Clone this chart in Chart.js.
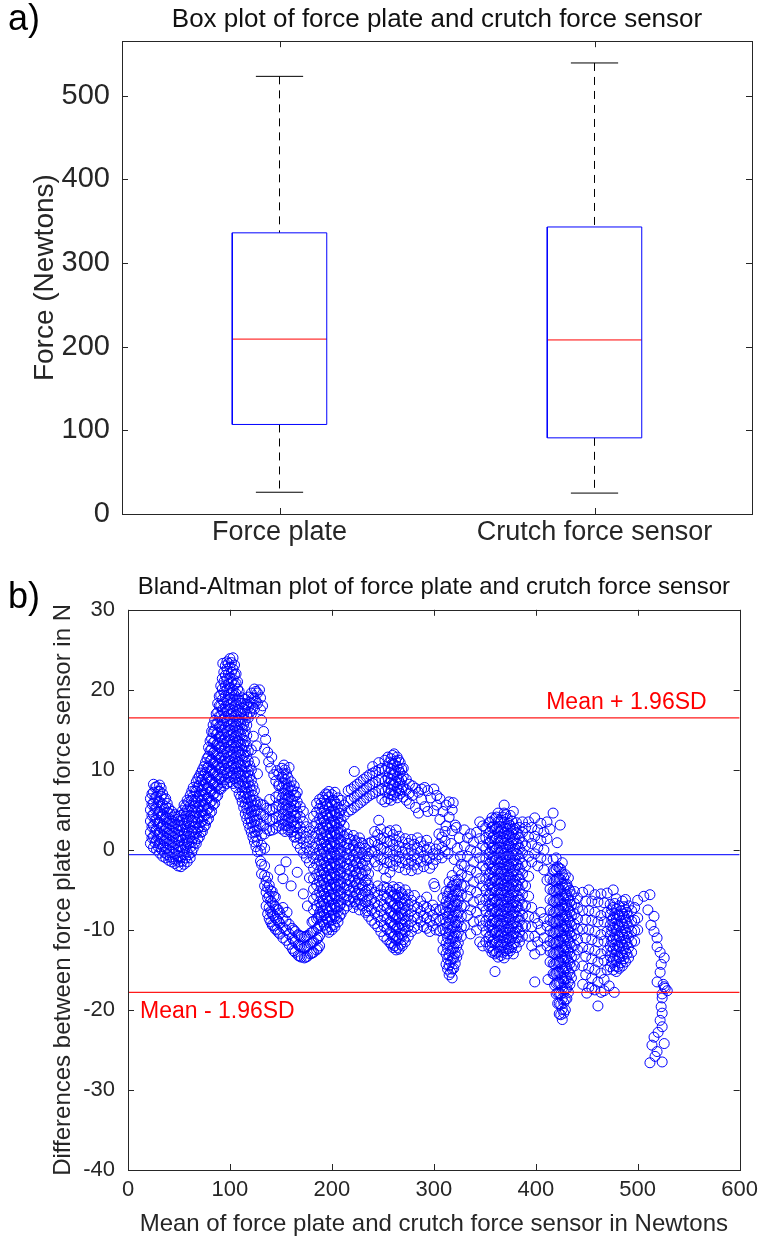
<!DOCTYPE html>
<html>
<head>
<meta charset="utf-8">
<script src="https://cdn.jsdelivr.net/npm/chart.js@4.4.1/dist/chart.umd.min.js"></script>
<style>
  html, body { margin: 0; padding: 0; background: #fff; }
  body { width: 765px; height: 1243px; position: relative; overflow: hidden; }
  .panel { position: absolute; left: 0; width: 765px; }
  #boxPanel { top: 0; height: 565px; }
  #baPanel { top: 565px; height: 678px; }
</style>
</head>
<body>
<div class="panel" id="boxPanel"><canvas id="boxChart"></canvas></div>
<div class="panel" id="baPanel"><canvas id="baChart"></canvas></div>
<script>
// a) box plot summary, Newtons
const groupLabels = ["Force plate", "Crutch force sensor"];
const whiskerHigh = [523, 539];
const q3Vals = [336, 343];
const medianVals = [209, 208];
const q1Vals = [107, 91];
const whiskerLow = [26, 25];

// b) Bland-Altman lines
const meanDiff = -0.6;
const upperLoA = 16.5;
const lowerLoA = -17.8;
const meanAxis = [0, 600];
const diffAxis = [-40, 30];

// scatter, column by column: [mean, [differences]]
const startCluster = [
  [22, [0.8, 2.2, 3.6, 5.0, 6.4]],
  [23.5, [1.5, 2.9, 4.3, 5.7, 7.0]],
  [25, [0.3, 1.6, 3.0, 4.4, 5.8, 7.2, 8.2]],
  [26.5, [0.9, 2.3, 3.7, 5.1, 6.5, 7.8]],
  [28, [0.0, 1.2, 2.5, 3.8, 5.2, 6.6, 7.9]],
  [29.5, [0.4, 1.8, 3.2, 4.5, 5.9, 7.3]],
  [31, [-0.4, 0.8, 2.1, 3.4, 4.7, 6.0, 7.3, 8.1]],
  [32.5, [0.1, 1.4, 2.8, 4.1, 5.4, 6.7, 7.7]],
  [34, [-0.8, 0.5, 1.8, 3.1, 4.4, 5.7, 7.0]],
  [35.5, [-0.3, 1.1, 2.4, 3.8, 5.1, 6.3]],
  [37, [-1.0, 0.2, 1.5, 2.8, 4.1, 5.4, 6.4]],
  [38.5, [-0.6, 0.8, 2.1, 3.4, 4.7, 5.8]],
  [40, [-1.3, 0.0, 1.3, 2.6, 3.9, 5.2]],
  [41.5, [-0.9, 0.6, 1.9, 3.2, 4.5]],
  [43, [-1.5, -0.3, 1.0, 2.3, 3.6, 4.8]],
  [44.5, [-1.1, 0.3, 1.6, 2.9, 4.1]],
  [46, [-1.7, -0.5, 0.8, 2.1, 3.4, 4.4]],
  [47.5, [-1.3, 0.0, 1.3, 2.6, 3.8]],
  [49, [-2.0, -0.8, 0.5, 1.8, 3.1, 4.2]],
  [50.5, [-1.5, -0.2, 1.1, 2.4, 3.6]],
  [52, [-2.1, -0.9, 0.4, 1.7, 3.0, 4.3]],
  [53.5, [-1.4, -0.1, 1.2, 2.5, 3.8, 4.9]],
  [55, [-1.8, -0.6, 0.7, 2.0, 3.3, 4.6, 5.6]],
  [56.5, [-1.0, 0.3, 1.6, 2.9, 4.2, 5.4]],
  [58, [-1.5, -0.2, 1.1, 2.4, 3.7, 5.0, 6.2]],
  [59.5, [-0.6, 0.8, 2.1, 3.4, 4.8, 6.0]],
  [61, [-1.0, 0.3, 1.6, 2.9, 4.2, 5.5, 6.8]]
];
const risingBand = [
  [62.5, [-0.3, 1.0, 2.3, 3.6, 4.9, 6.2, 7.3]],
  [64, [0.2, 1.5, 2.8, 4.1, 5.4, 6.7, 7.8]],
  [65.5, [0.9, 2.2, 3.5, 4.8, 6.1, 7.4]],
  [67, [0.8, 2.1, 3.4, 4.7, 6.0, 7.3, 8.5]],
  [68.5, [1.4, 2.7, 4.0, 5.3, 6.6, 7.9, 8.9]],
  [70, [1.6, 2.9, 4.2, 5.5, 6.8, 8.1, 9.2]],
  [71.5, [2.2, 3.5, 4.8, 6.1, 7.4, 8.7, 9.6]],
  [73, [2.3, 3.6, 4.9, 6.2, 7.5, 8.8, 10.0]],
  [74.5, [2.9, 4.2, 5.5, 6.8, 8.1, 9.4, 10.4]],
  [76, [3.1, 4.4, 5.7, 7.0, 8.3, 9.6, 10.9]],
  [77.5, [3.7, 5.0, 6.3, 7.6, 8.9, 10.2, 11.4]],
  [79, [3.9, 5.2, 6.5, 7.8, 9.1, 10.4, 11.7, 12.8]],
  [80.5, [4.6, 5.9, 7.2, 8.5, 9.8, 11.1, 12.4, 13.6]],
  [82, [4.8, 6.1, 7.4, 8.7, 10.0, 11.3, 12.6, 13.9, 14.8]],
  [83.5, [5.6, 6.9, 8.2, 9.5, 10.8, 12.1, 13.4, 14.7, 15.6]],
  [85, [5.8, 7.1, 8.4, 9.7, 11.0, 12.3, 13.6, 14.9, 16.2]],
  [86.5, [6.6, 7.9, 9.2, 10.5, 11.8, 13.1, 14.4, 15.7, 17.0]],
  [88, [6.8, 8.1, 9.4, 10.7, 12.0, 13.3, 14.6, 15.9, 17.2, 18.3]],
  [89.5, [7.6, 8.9, 10.2, 11.5, 12.8, 14.1, 15.4, 16.7, 18.0, 19.2]]
];
const peakCols = [
  [91, [7.6, 8.9, 10.2, 11.5, 12.8, 14.1, 15.4, 16.7, 18.0, 19.3, 20.5]],
  [92.5, [8.4, 9.7, 11.0, 12.3, 13.6, 14.9, 16.2, 17.5, 18.8, 20.1, 21.4]],
  [93, [23.3]],
  [94, [8.0, 9.3, 10.6, 11.9, 13.2, 14.5, 15.8, 17.1, 18.4, 19.7, 21.0, 22.2]],
  [95.5, [8.8, 10.1, 11.4, 12.7, 14.0, 15.3, 16.6, 17.9, 19.2, 20.5, 21.8, 23.0]],
  [97, [8.3, 9.6, 10.9, 12.2, 13.5, 14.8, 16.1, 17.4, 18.7, 20.0, 21.3, 22.6, 23.5]],
  [98.5, [9.0, 10.3, 11.6, 12.9, 14.2, 15.5, 16.8, 18.1, 19.4, 20.7, 22.0, 23.3]],
  [100, [8.5, 9.8, 11.1, 12.4, 13.7, 15.0, 16.3, 17.6, 18.9, 20.2, 21.5, 22.8, 23.9]],
  [101.5, [9.2, 10.5, 11.8, 13.1, 14.4, 15.7, 17.0, 18.3, 19.6, 20.9, 22.2, 23.4]],
  [103, [8.3, 9.6, 10.9, 12.2, 13.5, 14.8, 16.1, 17.4, 18.7, 20.0, 21.3, 22.6, 24.0]],
  [104.5, [8.9, 10.2, 11.5, 12.8, 14.1, 15.4, 16.7, 18.0, 19.3, 20.6, 21.9, 23.1]],
  [106, [7.8, 9.1, 10.4, 11.7, 13.0, 14.3, 15.6, 16.9, 18.2, 19.5, 20.8, 22.0]],
  [107.5, [8.4, 9.7, 11.0, 12.3, 13.6, 14.9, 16.2, 17.5, 18.8, 20.1, 21.0]],
  [109, [7.0, 8.3, 9.6, 10.9, 12.2, 13.5, 14.8, 16.1, 17.4, 18.7, 19.8]],
  [110.5, [6.6, 7.9, 9.2, 10.5, 11.8, 13.1, 14.4, 15.7, 17.0, 18.3]],
  [112, [6.0, 7.3, 8.6, 9.9, 11.2, 12.5, 13.8, 15.1, 16.4, 17.7, 19.0]],
  [113.5, [5.3, 6.6, 7.9, 9.2, 10.5, 11.8, 13.1, 14.4, 15.7, 17.0, 18.3]]
];
const afterPeak = [
  [115, [4.5, 5.8, 7.1, 8.4, 9.7, 11.0, 12.3, 13.6, 14.9, 16.2, 17.5, 18.8]],
  [116.5, [3.9, 5.2, 6.5, 7.8, 9.1, 10.4, 11.7, 13.0, 14.3, 15.6, 16.9, 18.2]],
  [118, [3.3, 4.6, 5.9, 7.2, 8.5, 9.8, 11.1, 12.4, 16.5, 17.8, 19.1]],
  [119.5, [2.7, 4.0, 5.3, 6.6, 7.9, 9.2, 10.5, 17.2, 18.5]],
  [121, [2.2, 3.5, 4.8, 6.1, 7.4, 8.7, 10.0, 12.5, 17.0, 18.3, 19.6]],
  [122.5, [1.6, 2.9, 4.2, 5.5, 6.8, 8.0, 17.8, 19.0]],
  [124, [1.0, 2.3, 3.6, 4.9, 6.2, 7.4, 11.0, 17.6, 18.9, 20.1]],
  [125.5, [0.4, 1.7, 3.0, 4.3, 5.6, 18.6, 19.8]],
  [127, [-0.2, 1.1, 2.4, 3.7, 5.0, 6.0, 9.5, 18.3, 19.6]],
  [130, [-1.4, -0.1, 3.2, 4.5, 5.7, 17.5, 19.0]],
  [123, [14.2]], [126, [13.0]], [129, [20.0]], [132, [18.0]],
  [131, [16.2]], [133, [14.8]], [135, [13.8]], [134, [12.6]],
  [137, [12.2]], [138, [11.0]], [140, [10.2]], [141, [11.6]],
  [143, [9.4]], [145, [8.6]], [146, [9.9]], [148, [8.0]]
];
const lowerBranch = [
  [131, [-3.0, -1.8, 0.6, 1.8]],
  [134, [-4.5, -3.2, -2.0, 0.2, 2.0]],
  [135.5, [-7.0, -5.3, -3.9]],
  [137, [-8.0, -6.0, -4.7, -3.4]],
  [138.5, [-8.6, -7.2, -5.8, -4.4]],
  [140, [-9.0, -7.7, -6.4, -5.1]],
  [141.5, [-9.4, -8.0, -6.6, -5.2]],
  [143, [-9.5, -8.2, -6.9, -5.8]],
  [144.5, [-9.9, -8.5, -7.1, -5.9]],
  [146, [-10.0, -8.7, -7.4]],
  [147.5, [-10.3, -8.9, -7.5]],
  [149, [-10.5, -9.2, -7.9, -2.5]],
  [152, [-11.0, -9.7, -8.6, -7.2, -3.6]],
  [155, [-11.3, -10.0, -8.9, -1.5]],
  [156, [-7.8]],
  [158, [-11.8, -10.5, -9.3]],
  [161, [-12.3, -11.0, -9.8]],
  [162.5, [-12.6, -11.3, -10.0]],
  [164, [-12.8, -11.5, -10.2]],
  [167, [-13.2, -11.9, -10.6]],
  [168.5, [-13.3, -12.0, -10.7]],
  [170, [-13.4, -12.1, -10.8]],
  [173, [-13.5, -12.2, -10.9]],
  [174.5, [-13.4, -12.1, -10.8]],
  [176, [-13.3, -12.0, -10.7, -7.0]],
  [179, [-13.0, -11.7, -10.4]],
  [180.5, [-12.9, -11.6, -10.3, -9.0]],
  [182, [-12.8, -11.5, -10.2, -8.9]],
  [185, [-12.5, -11.2, -9.9, -8.6]],
  [186.5, [-12.3, -11.0, -9.7, -8.4]],
  [188, [-12.0, -10.7, -9.4, -8.1]],
  [160, [-4.5]], [166, [-2.8]], [172, [-5.5]], [178, [-3.5]]
];
const midBand = [
  [133, [3.0, 4.3, 5.6]],
  [136, [2.6, 3.9, 5.2]],
  [139, [2.4, 3.7, 5.0, 6.3]],
  [142, [2.5, 3.8, 5.1]],
  [145, [2.7, 4.0, 5.3, 6.6]],
  [148, [3.0, 4.3, 5.6, 6.9, 8.2, 9.5]],
  [151, [2.6, 3.9, 5.2, 6.5, 7.8, 9.1, 10.2]],
  [152.5, [3.1, 4.4, 5.7, 7.0, 8.3, 9.6]],
  [153, [10.6]],
  [154, [2.3, 3.6, 4.9, 6.2, 7.5, 8.8, 10.0]],
  [155.5, [3.0, 4.3, 5.6, 6.9, 8.2, 9.5]],
  [157, [2.5, 3.8, 5.1, 6.4, 7.7, 9.0]],
  [158, [10.3]],
  [158.5, [2.8, 4.1, 5.4, 6.7, 8.0]],
  [160, [2.2, 3.5, 4.8, 6.1, 7.4, 8.5]],
  [161.5, [2.3, 3.6, 4.9, 6.2, 7.5]],
  [163, [1.6, 2.9, 4.2, 5.5, 6.8, 8.0]],
  [164.5, [1.6, 2.9, 4.2, 5.5, 6.8]],
  [166, [0.8, 2.1, 3.4, 4.7, 6.0, 7.2]],
  [169, [0.2, 1.5, 2.8, 4.1, 5.4]],
  [172, [-0.4, 0.9, 2.2, 3.5, 4.8]],
  [175, [-1.0, 0.3, 1.6, 2.9]],
  [178, [-1.6, -0.3, 1.0, 2.3]]
];
const firstColumn = [
  [182, [-7.5, -6.2, -4.9, -3.6, -2.3, -1.0, 0.3, 1.6, 2.9, 4.2]],
  [185, [-7.0, -5.7, -4.4, -3.1, -1.8, -0.5, 0.8, 2.1, 3.4, 4.7, 5.8]],
  [188, [-7.8, -6.5, -5.2, -3.9, -2.6, -1.3, 0.0, 1.3, 2.6, 3.9, 5.2, 6.3]],
  [189.5, [-8.4, -7.1, -5.8, -4.5, -3.2, -1.9, -0.6, 0.7, 2.0, 3.3, 4.6, 5.8]],
  [191, [-9.0, -7.7, -6.4, -5.1, -3.8, -2.5, -1.2, 0.1, 1.4, 2.7, 4.0, 5.3, 6.6]],
  [192.5, [-9.4, -8.1, -6.8, -5.5, -4.2, -2.9, -1.6, -0.3, 1.0, 2.3, 3.6, 4.9, 6.2]],
  [194, [-9.8, -8.5, -7.2, -5.9, -4.6, -3.3, -2.0, -0.7, 0.6, 1.9, 3.2, 4.5, 5.8, 7.0]],
  [195.5, [-10.0, -8.7, -7.4, -6.1, -4.8, -3.5, -2.2, -0.9, 0.4, 1.7, 3.0, 4.3, 5.6, 6.9]],
  [197, [-10.3, -9.0, -7.7, -6.4, -5.1, -3.8, -2.5, -1.2, 0.1, 1.4, 2.7, 4.0, 5.3, 6.6, 7.3]],
  [198.5, [-9.6, -8.3, -7.0, -5.7, -4.4, -3.1, -1.8, -0.5, 0.8, 2.1, 3.4, 4.7, 6.0]],
  [200, [-10.0, -8.7, -7.4, -6.1, -4.8, -3.5, -2.2, -0.9, 0.4, 1.7, 3.0, 4.3, 5.6, 6.9]],
  [201.5, [-9.4, -8.1, -6.8, -5.5, -4.2, -2.9, -1.6, -0.3, 1.0, 2.3, 3.6, 4.9, 6.2]],
  [203, [-9.6, -8.3, -7.0, -5.7, -4.4, -3.1, -1.8, -0.5, 0.8, 2.1, 3.4, 4.7, 6.0, 7.2]],
  [204.5, [-8.6, -7.3, -6.0, -4.7, -3.4, -2.1, -0.8, 0.5, 1.8, 3.1, 4.4, 5.7]],
  [206, [-9.0, -7.7, -6.4, -5.1, -3.8, -2.5, -1.2, 0.1, 1.4, 2.7, 4.0, 5.3, 6.5]],
  [207.5, [-8.3, -7.0, -5.7, -4.4, -3.1, -1.8, -0.5, 0.8, 2.1, 3.4, 4.6]],
  [209, [-8.0, -6.7, -5.4, -4.1, -2.8, -1.5, -0.2, 1.1, 2.4, 3.7, 5.0, 6.2]],
  [212, [-7.4, -6.1, -4.8, -3.5, -2.2, -0.9, 0.4, 1.7, 3.0, 4.3, 5.6]]
];
const centreBlob = [
  [215, [-7.0, -5.7, -4.4, -3.1, -1.8, -0.5, 0.8, 2.0]],
  [216.5, [-6.3, -5.0, -3.7, -2.4, -1.1, 0.2, 1.4]],
  [218, [-6.5, -5.2, -3.9, -2.6, -1.3, 0.0, 1.3]],
  [221, [-7.2, -5.9, -4.6, -3.3, -2.0, -0.7, 0.6, 1.8]],
  [222.5, [-6.5, -5.2, -3.9, -2.6, -1.3, 0.0, 1.2]],
  [224, [-6.8, -5.5, -4.2, -2.9, -1.6, -0.3, 1.0]],
  [227, [-7.5, -6.2, -4.9, -3.6, -2.3, -1.0, 0.3, 1.5]],
  [228.5, [-6.8, -5.5, -4.2, -2.9, -1.6, -0.3, 0.9]],
  [230, [-7.0, -5.7, -4.4, -3.1, -1.8, -0.5, 0.8]],
  [233, [-7.8, -6.5, -5.2, -3.9, -2.6, -1.3, 0.2]],
  [234.5, [-7.6, -6.3, -5.0, -3.7, -2.0, -0.8]],
  [236, [-8.3, -7.0, -5.7, -4.4, -3.0, -0.5, 0.8]],
  [239, [-8.8, -7.5, -6.2, -4.9, -0.2, 1.0]]
];
const upperArc = [
  [216, [4.8, 6.1, 7.4]],
  [219, [5.0, 6.3, 7.6]],
  [222, [5.3, 6.6, 7.9, 9.8]],
  [225, [5.6, 6.9, 8.2]],
  [228, [5.9, 7.2, 8.5]],
  [231, [6.2, 7.5, 8.8]],
  [234, [6.5, 7.8, 9.1]],
  [237, [6.8, 8.1, 9.4]],
  [240, [7.0, 8.3, 9.6, 10.4]],
  [243, [7.2, 8.5, 9.8]],
  [246, [3.7, 7.4, 8.7, 10.0, 10.9]],
  [249, [6.3, 7.6, 8.9, 10.2]],
  [252, [6.0, 7.3, 8.6, 9.9, 11.2]],
  [255, [6.4, 7.7, 9.0, 10.3, 11.6]],
  [256.5, [7.0, 8.3, 9.6, 10.9]],
  [258, [6.2, 7.5, 8.8, 10.1, 11.4]],
  [259.5, [6.9, 8.2, 9.5, 10.8, 11.8]],
  [261, [6.8, 8.1, 9.4, 10.7, 12.0]],
  [262.5, [7.2, 8.5, 9.8, 11.1]],
  [264, [6.5, 7.8, 9.1, 10.4, 11.6]],
  [265.5, [7.4, 8.7, 10.0, 11.2]],
  [267, [7.0, 8.3, 9.6, 10.9]],
  [268.5, [7.5, 8.8, 10.1]],
  [270, [6.6, 7.9, 9.2, 10.2]],
  [273, [6.2, 7.5, 8.8]],
  [276, [5.8, 7.1, 8.2]],
  [279, [6.8, 8.0]],
  [282, [5.3, 7.7]],
  [285, [4.6, 7.2]],
  [288, [6.3, 7.6]],
  [291, [5.4, 7.8]],
  [294, [4.8, 7.4]],
  [297, [6.5]],
  [300, [4.9, 7.6]],
  [303, [5.6, 6.8]],
  [306, [3.8, 6.4]],
  [309, [4.8]],
  [312, [3.0, 5.6]],
  [315, [4.1, 6.0]],
  [318, [2.4, 5.0]],
  [321, [3.1]]
];
const zeroBand = [
  [242, [-1.5, -0.2, 1.1, 2.3]],
  [245, [-2.0, -0.7, 0.6, 1.9]],
  [248, [-1.2, 0.1, 1.4, 2.6]],
  [251, [-2.4, -1.1, 0.2, 1.5]],
  [253, [-3.5]],
  [254, [-1.6, -0.3, 1.0, 2.2]],
  [257, [-2.8, -1.5, -0.2, 1.1, 2.4]],
  [260, [-2.0, -0.7, 0.6, 1.9]],
  [263, [-1.4, -0.1, 1.2, 2.5]],
  [266, [-2.2, -0.9, 0.4, 1.7]],
  [269, [-1.6, -0.3, 1.0]],
  [272, [-2.5, -1.2, 0.1, 1.4]],
  [275, [-1.8, -0.5, 0.8]],
  [278, [-2.6, -1.3, 0.0, 1.3]],
  [281, [-1.9, -0.6, 0.7]],
  [284, [-2.4, -1.1, 0.2, 1.5]],
  [287, [-1.5, -0.2, 1.0]],
  [290, [-2.1, -0.8, 0.5]],
  [293, [-1.3, 0.0, 1.2]],
  [296, [-2.3, -1.0, 0.3]],
  [299, [-1.8, -0.5]],
  [300, [-4.2]],
  [301, [-4.6]],
  [302, [-1.2, 0.1]],
  [305, [-0.6, 0.7, 2.0]],
  [308, [-1.0, 0.3, 1.6]],
  [311, [-0.2, 1.1, 2.3]]
];
const lowerBlob = [
  [242, [-9.2, -7.9, -6.6, -5.3]],
  [245, [-9.6, -8.3, -7.0, -5.7, -4.5]],
  [248, [-10.2, -8.9, -7.6, -6.3, -5.0]],
  [251, [-10.8, -9.5, -8.2, -6.9, -5.6, -4.6]],
  [254, [-11.2, -9.9, -8.6, -7.3, -6.0, -4.8]],
  [257, [-11.6, -10.3, -9.0, -7.7, -6.4, -5.1]],
  [258.5, [-11.8, -10.5, -9.2, -7.9, -6.6, -5.3]],
  [260, [-12.2, -10.9, -9.6, -8.3, -7.0, -5.7, -4.6]],
  [261.5, [-12.0, -10.7, -9.4, -8.1, -6.8, -5.5]],
  [263, [-12.5, -11.2, -9.9, -8.6, -7.3, -6.0, -4.9]],
  [264.5, [-12.2, -10.9, -9.6, -8.3, -7.0, -5.7]],
  [266, [-12.4, -11.1, -9.8, -8.5, -7.2, -5.9, -4.7]],
  [267.5, [-11.8, -10.5, -9.2, -7.9, -6.6, -5.3]],
  [269, [-12.0, -10.7, -9.4, -8.1, -6.8, -5.5]],
  [270.5, [-11.2, -9.9, -8.6, -7.3, -6.0]],
  [272, [-11.5, -10.2, -8.9, -7.6, -6.3, -5.0]],
  [275, [-10.8, -9.5, -8.2, -6.9, -5.6]],
  [278, [-10.2, -8.9, -7.6, -6.3]],
  [281, [-9.6, -8.3, -7.0, -5.7]],
  [284, [-9.8, -8.5, -7.2]],
  [287, [-9.0, -7.7, -6.4]],
  [290, [-9.6, -8.3, -7.0]],
  [293, [-9.8, -8.5, -7.2, -5.9]],
  [296, [-10.2, -8.9, -7.6]],
  [299, [-9.5, -8.2, -6.9]],
  [302, [-10.0, -8.7, -7.4]]
];
const thirdColumn = [
  [306, [-10.1, -8.8, -7.5]],
  [309, [-12.5, -11.2, -9.9, -8.6, -7.3, -6.0]],
  [312, [-14.3, -13.0, -11.7, -10.4, -9.1, -7.8, -6.5, -5.2]],
  [313.5, [-14.9, -13.6, -12.3, -11.0, -9.7, -8.4, -7.1, -5.8]],
  [315, [-15.6, -14.4, -13.1, -11.8, -10.5, -9.2, -7.9, -6.6, -5.3, -4.0]],
  [316.5, [-15.3, -14.0, -12.7, -11.4, -10.1, -8.8, -7.5, -6.2, -4.9]],
  [318, [-16.0, -14.9, -13.6, -12.3, -11.0, -9.7, -8.4, -7.1, -5.8, -4.5, -3.2]],
  [319.5, [-14.8, -13.5, -12.2, -10.9, -9.6, -8.3, -7.0, -5.7, -4.4]],
  [321, [-14.2, -12.9, -11.6, -10.3, -9.0, -7.7, -6.4, -5.1, -3.8]],
  [322.5, [-13.4, -12.1, -10.8, -9.5, -8.2, -6.9, -5.6, -4.3]],
  [324, [-12.8, -11.6, -10.3, -9.0, -7.7, -6.4, -5.1, -3.8, -2.5]],
  [327, [-10.8, -9.6, -8.3, -7.0, -5.7, -4.4, -3.1, -1.8]],
  [314, [-0.5]], [317, [0.8]], [319, [5.9]], [320, [-1.2]],
  [322, [2.8]], [323, [0.2]], [325, [1.5]], [326, [-0.8]]
];
const gapScatter = [
  [330, [-9.5, -7.0, -4.5, -2.0, 0.5, 2.5]],
  [333, [-8.2, -5.8, -3.3, -0.8, 1.5]],
  [336, [-10.5, -7.5, -5.0, -2.5, 0.0, 2.0]],
  [339, [-9.0, -6.5, -4.0, -1.5, 1.0]],
  [342, [-10.0, -7.8, -5.3, -2.8, -0.3, 2.2]],
  [345, [-11.5, -8.8, -6.2, -3.6, -1.0, 1.4, 3.5]],
  [348, [-12.0, -9.5, -7.0, -4.5, -2.0, 0.5, 3.0]]
];
const mainColumn = [
  [351, [-11.5, -10.2, -8.9, -7.6, -6.3, -5.0, -3.7, -2.4, -1.1, 0.2, 1.5, 2.8]],
  [354, [-12.2, -10.9, -9.6, -8.3, -7.0, -5.7, -4.4, -3.1, -1.8, -0.5, 0.8, 2.1, 3.4]],
  [355.5, [-12.0, -10.7, -9.4, -8.1, -6.8, -5.5, -4.2, -2.9, -1.6, -0.3, 1.0, 2.3, 3.5]],
  [357, [-12.8, -11.5, -10.2, -8.9, -7.6, -6.3, -5.0, -3.7, -2.4, -1.1, 0.2, 1.5, 2.8, 4.0]],
  [358.5, [-12.6, -11.3, -10.0, -8.7, -7.4, -6.1, -4.8, -3.5, -2.2, -0.9, 0.4, 1.7, 3.0]],
  [360, [-15.2, -13.0, -11.7, -10.4, -9.1, -7.8, -6.5, -5.2, -3.9, -2.6, -1.3, 0.0, 1.3, 2.6, 3.9]],
  [361.5, [-12.8, -11.5, -10.2, -8.9, -7.6, -6.3, -5.0, -3.7, -2.4, -1.1, 0.2, 1.5, 2.8, 4.1]],
  [363, [-13.4, -12.1, -10.8, -9.5, -8.2, -6.9, -5.6, -4.3, -3.0, -1.7, -0.4, 0.9, 2.2, 3.5, 4.6]],
  [364.5, [-12.7, -11.4, -10.1, -8.8, -7.5, -6.2, -4.9, -3.6, -2.3, -1.0, 0.3, 1.6, 2.9]],
  [366, [-13.2, -11.9, -10.6, -9.3, -8.0, -6.7, -5.4, -4.1, -2.8, -1.5, -0.2, 1.1, 2.4, 3.7]],
  [367.5, [-12.8, -11.5, -10.2, -8.9, -7.6, -6.3, -5.0, -3.7, -2.4, -1.1, 0.2, 1.5, 2.8, 4.1]],
  [369, [-13.5, -12.2, -10.9, -9.6, -8.3, -7.0, -5.7, -4.4, -3.1, -1.8, -0.5, 0.8, 2.1, 3.4, 4.6, 5.6]],
  [370.5, [-12.6, -11.3, -10.0, -8.7, -7.4, -6.1, -4.8, -3.5, -2.2, -0.9, 0.4, 1.7, 3.0, 4.4]],
  [372, [-13.0, -11.7, -10.4, -9.1, -7.8, -6.5, -5.2, -3.9, -2.6, -1.3, 0.0, 1.3, 2.6, 3.9]],
  [373.5, [-12.3, -11.0, -9.7, -8.4, -7.1, -5.8, -4.5, -3.2, -1.9, -0.6, 0.7, 2.0, 3.3]],
  [375, [-12.6, -11.3, -10.0, -8.7, -7.4, -6.1, -4.8, -3.5, -2.2, -0.9, 0.4, 1.7, 3.0, 4.3]],
  [376.5, [-12.2, -10.9, -9.6, -8.3, -7.0, -5.7, -4.4, -3.1, -1.8, -0.5, 0.8, 2.1, 3.6]],
  [378, [-13.0, -11.7, -10.4, -9.1, -7.8, -6.5, -5.2, -3.9, -2.6, -1.3, 0.0, 1.3, 2.6, 4.8]],
  [379.5, [-11.6, -10.3, -9.0, -7.7, -6.4, -5.1, -3.8, -2.5, -1.2, 0.1, 1.4, 2.7]],
  [381, [-12.2, -10.9, -9.6, -8.3, -7.0, -5.7, -4.4, -3.1, -1.8, -0.5, 0.8, 2.1, 3.4]],
  [382.5, [-11.0, -9.7, -8.4, -7.1, -5.8, -4.5, -3.2, -1.9, -0.6, 0.7, 2.0]],
  [384, [-11.5, -10.2, -8.9, -7.6, -6.3, -5.0, -3.7, -2.4, -1.1, 0.2, 1.5, 2.8]],
  [387, [-10.8, -9.5, -8.2, -6.9, -5.6, -4.3, -3.0, -1.7, -0.4, 0.9, 2.2, 3.5]]
];
const rightUpper = [
  [390, [-9.5, -7.0, -4.5, -2.0, 0.5, 2.8]],
  [393, [-10.8, -8.3, -5.8, -3.3, -0.8, 1.6, 3.5]],
  [396, [-12.0, -9.6, -7.2, -1.5, 0.8, 2.8]],
  [399, [-16.5, -13.0, -10.8, -8.5, -0.5, 1.7, 4.0]],
  [402, [-11.5, -9.2, -2.0, 0.3, 2.5]],
  [405, [-12.5, -10.0, -7.8, -1.0, 1.2, 3.3]],
  [408, [-11.0, -8.6, -2.5, 0.0, 2.2]],
  [411, [-12.0, -9.5, -3.8, -1.2, 1.4, 3.5]],
  [412, [-16.2]], [414, [2.6]], [417, [4.6]], [421, [0.9]], [424, [3.1]]
];
const fourthColumn = [
  [414, [-14.0, -12.7, -11.4, -10.1, -8.8, -7.5, -6.2, -4.9, -3.6]],
  [417, [-15.5, -14.2, -12.9, -11.6, -10.3, -9.0, -7.7, -6.4, -5.1, -3.8, -2.5, -1.2]],
  [418.5, [-16.9, -15.6, -14.3, -13.0, -11.7, -10.4, -9.1, -7.8, -6.5, -5.2, -3.9, -2.6]],
  [420, [-18.0, -16.7, -15.4, -14.1, -12.8, -11.5, -10.2, -8.9, -7.6, -6.3, -5.0, -3.7, -2.4, -1.0]],
  [421.5, [-19.2, -17.9, -16.6, -15.3, -14.0, -12.7, -11.4, -10.1, -8.8, -7.5, -6.2, -4.9, -3.6, -2.1]],
  [423, [-20.5, -19.2, -17.9, -16.6, -15.3, -14.0, -12.7, -11.4, -10.1, -8.8, -7.5, -6.2, -4.9, -3.6, -2.3]],
  [424.5, [-20.6, -19.3, -18.0, -16.7, -15.4, -14.1, -12.8, -11.5, -10.2, -8.9, -7.6, -6.3, -5.0, -3.7, -2.4]],
  [426, [-21.2, -19.9, -18.6, -17.3, -16.0, -14.7, -13.4, -12.1, -10.8, -9.5, -8.2, -6.9, -5.6, -4.3, -3.0, -1.6]],
  [427.5, [-20.4, -19.1, -17.8, -16.5, -15.2, -13.9, -12.6, -11.3, -10.0, -8.7, -7.4, -6.1, -4.8, -3.5]],
  [429, [-20.0, -18.7, -17.4, -16.1, -14.8, -13.5, -12.2, -10.9, -9.6, -8.3, -7.0, -5.7, -4.4, -3.1]],
  [430.5, [-18.6, -17.3, -16.0, -14.7, -13.4, -12.1, -10.8, -9.5, -8.2, -6.9, -5.6, -4.3]],
  [432, [-17.8, -16.5, -15.2, -13.9, -12.6, -11.3, -10.0, -8.7, -7.4, -6.1, -4.8, -3.5]],
  [433.5, [-16.8, -15.5, -14.2, -12.9, -11.6, -10.3, -9.0, -7.7, -6.4, -5.1]],
  [435, [-16.0, -14.7, -13.4, -12.1, -10.8, -9.5, -8.2, -6.9, -5.6]],
  [438, [-14.5, -13.2, -11.9, -10.6, -9.3, -8.0, -6.7, -5.2]],
  [441, [-12.5, -11.2, -9.9, -8.6, -7.3, -6.0]]
];
const lastCluster = [
  [446, [-16.8, -14.5, -12.2, -9.9, -7.6, -5.3]],
  [449, [-15.6, -13.3, -11.0, -8.7, -6.4]],
  [450, [-17.9]],
  [452, [-17.2, -14.8, -12.4, -10.0, -7.6, -5.0]],
  [455, [-17.3, -16.0, -13.6, -11.2, -8.8, -6.4]],
  [458, [-17.5, -15.0, -12.6, -10.2, -7.8, -5.6]],
  [461, [-19.5, -16.5, -14.0, -11.5, -9.0, -6.5]],
  [464, [-17.8, -15.4, -13.0, -10.6, -8.2, -5.5]],
  [467, [-17.6, -16.2, -13.8, -11.4, -9.0, -6.6]],
  [470, [-15.0, -12.6, -10.2, -7.8, -5.4]],
  [472, [-17.0]],
  [473, [-14.6, -13.3, -12.0, -10.7, -9.4, -8.1, -6.8]],
  [474.5, [-14.0, -12.7, -11.4, -10.1, -8.8, -7.5]],
  [476, [-15.0, -13.7, -12.4, -11.1, -9.8, -8.5, -7.2, -5.0]],
  [477, [-17.8]],
  [477.5, [-14.5, -13.2, -11.9, -10.6, -9.3, -8.0, -6.7]],
  [479, [-15.2, -13.9, -12.6, -11.3, -10.0, -8.7, -7.4, -6.1]],
  [480.5, [-14.6, -13.3, -12.0, -10.7, -9.4, -8.1]],
  [482, [-14.8, -13.5, -12.2, -10.9, -9.6, -8.3, -7.0]],
  [483.5, [-14.1, -12.8, -11.5, -10.2, -8.9, -7.6]],
  [485, [-14.5, -13.2, -11.9, -10.6, -9.3, -8.0, -6.4]],
  [486.5, [-13.6, -12.3, -11.0, -9.7, -8.4, -7.1]],
  [488, [-14.0, -12.7, -11.4, -10.1, -8.8, -7.5, -6.2]],
  [489.5, [-13.0, -11.7, -10.4, -9.1, -7.8]],
  [491, [-13.5, -12.2, -10.9, -9.6, -8.3, -7.0]],
  [494, [-12.8, -11.5, -10.2, -8.9, -7.6]],
  [497, [-11.4, -10.1, -8.8, -7.2]],
  [500, [-10.0, -8.5, -6.3]]
];
const tailPoints = [
  [506, [-5.8]], [512, [-5.6, -26.6]], [510, [-7.5]], [516, [-8.3, -10.2, -23.4]],
  [513, [-9.4]], [519, [-11.0, -12.1, -16.5, -25.2]], [522, [-12.8, -15.3, -21.3]],
  [526, [-13.5, -17.1, -24.2]], [523, [-14.3, -19.6]], [525, [-16.8]],
  [527, [-17.3]], [529, [-17.6]], [524, [-18.0, -18.5, -20.4, -22.1, -26.5]],
  [520, [-22.8]], [514, [-24.4]], [517, [-25.8]]
];

const FONT = '"Liberation Sans", Arial, Helvetica, sans-serif';
const INK = "#262626";
Chart.defaults.font.family = FONT;
Chart.defaults.color = INK;
Chart.defaults.animation = false;

function toPoints(cols) {
  const out = [];
  cols.forEach(c => c[1].forEach(v => out.push({ x: c[0], y: v })));
  return out;
}

// matlab style box with inward ticks on all four sides
const frameTicks = {
  id: "frameTicks",
  afterDatasetsDraw(chart, args, opts) {
    const { ctx, chartArea: a, scales: { x, y } } = chart;
    const len = opts.len || 6;
    ctx.save();
    ctx.strokeStyle = INK;
    ctx.lineWidth = 1;
    ctx.beginPath();
    y.ticks.forEach(t => {
      const py = Math.round(y.getPixelForValue(t.value)) + 0.5;
      ctx.moveTo(a.left, py); ctx.lineTo(a.left + len, py);
      ctx.moveTo(a.right, py); ctx.lineTo(a.right - len, py);
    });
    x.ticks.forEach(t => {
      const px = Math.round(x.getPixelForValue(t.value)) + 0.5;
      ctx.moveTo(px, a.bottom); ctx.lineTo(px, a.bottom - len);
      ctx.moveTo(px, a.top); ctx.lineTo(px, a.top + len);
    });
    ctx.stroke();
    ctx.strokeRect(Math.round(a.left) + 0.5, Math.round(a.top) + 0.5,
      Math.round(a.right - a.left), Math.round(a.bottom - a.top));
    ctx.restore();
  }
};

const panelTag = {
  id: "panelTag",
  afterDraw(chart, args, opts) {
    const ctx = chart.ctx;
    ctx.save();
    ctx.font = "36px " + FONT;
    ctx.fillStyle = "#000";
    ctx.textBaseline = "middle";
    ctx.fillText(opts.text, 8, opts.y);
    ctx.restore();
  }
};

const loaLabels = {
  id: "loaLabels",
  afterDatasetsDraw(chart) {
    const { ctx, chartArea: a, scales: { y } } = chart;
    ctx.save();
    ctx.font = "23px " + FONT;
    ctx.fillStyle = "#ff0000";
    ctx.textAlign = "right";
    ctx.textBaseline = "bottom";
    ctx.fillText("Mean + 1.96SD", a.right - 33, y.getPixelForValue(upperLoA) - 4);
    ctx.textAlign = "left";
    ctx.textBaseline = "top";
    ctx.fillText("Mean - 1.96SD", a.left + 12, y.getPixelForValue(lowerLoA) + 8);
    ctx.restore();
  }
};

// ---- a) box plot ----
const BOX_HALF = 0.15, CAP_HALF = 0.075;
const boxSets = [];
function seg(pts, color, dash) {
  boxSets.push({
    data: pts, borderColor: color, borderDash: dash || [], borderWidth: 1,
    showLine: true, pointRadius: 0, pointHoverRadius: 0, fill: false, tension: 0
  });
}
groupLabels.forEach((name, i) => {
  const c = i + 1;
  seg([{ x: c - BOX_HALF, y: q1Vals[i] }, { x: c + BOX_HALF, y: q1Vals[i] },
       { x: c + BOX_HALF, y: q3Vals[i] }, { x: c - BOX_HALF, y: q3Vals[i] },
       { x: c - BOX_HALF, y: q1Vals[i] }], "#0000ff");
  seg([{ x: c - BOX_HALF, y: medianVals[i] }, { x: c + BOX_HALF, y: medianVals[i] }], "#ff0000");
  seg([{ x: c, y: whiskerHigh[i] }, { x: c, y: q3Vals[i] }], "#000", [8, 6]);
  seg([{ x: c, y: q1Vals[i] }, { x: c, y: whiskerLow[i] }], "#000", [8, 6]);
  seg([{ x: c - CAP_HALF, y: whiskerHigh[i] }, { x: c + CAP_HALF, y: whiskerHigh[i] }], "#000");
  seg([{ x: c - CAP_HALF, y: whiskerLow[i] }, { x: c + CAP_HALF, y: whiskerLow[i] }], "#000");
});

new Chart(document.getElementById("boxChart"), {
  type: "scatter",
  data: { datasets: boxSets },
  options: {
    responsive: true,
    maintainAspectRatio: false,
    events: [],
    layout: { padding: { left: 0, right: 13, top: 0, bottom: 0 } },
    plugins: {
      legend: { display: false },
      tooltip: { enabled: false },
      title: {
        display: true, fullSize: false, color: "#111",
        text: "Box plot of force plate and crutch force sensor",
        font: { size: 26, weight: "normal" },
        padding: { top: 4, bottom: 6 }
      },
      frameTicks: { len: 6 },
      panelTag: { text: "a)", y: 20 }
    },
    scales: {
      x: {
        type: "linear", min: 0.5, max: 2.5,
        afterBuildTicks: s => { s.ticks = groupLabels.map((n, i) => ({ value: i + 1 })); },
        ticks: {
          callback: v => groupLabels[v - 1], font: { size: 27 }, padding: 2,
          maxRotation: 0, autoSkip: false
        },
        grid: { display: false, drawTicks: false },
        border: { display: false },
        afterFit: s => { s.height = 51; }
      },
      y: {
        min: 0, max: 565,
        afterBuildTicks: s => { s.ticks = s.ticks.filter(t => t.value % 100 === 0); },
        ticks: { stepSize: 100, padding: 12, font: { size: 29 } },
        grid: { display: false, drawTicks: false },
        border: { display: false },
        title: {
          display: true, text: "Force (Newtons)", font: { size: 28 },
          padding: { top: 28, bottom: 0 }
        },
        afterFit: s => { s.width = 122; }
      }
    }
  },
  plugins: [frameTicks, panelTag]
});

// ---- b) Bland-Altman ----
const scatterPoints = [
  startCluster, risingBand, peakCols, afterPeak, lowerBranch, midBand,
  firstColumn, centreBlob, upperArc, zeroBand, lowerBlob, thirdColumn,
  gapScatter, mainColumn, rightUpper, fourthColumn, lastCluster, tailPoints
].flatMap(toPoints);

function hLine(v, color) {
  return {
    data: [{ x: meanAxis[0], y: v }, { x: meanAxis[1], y: v }],
    borderColor: color, borderWidth: 1.3, showLine: true,
    pointRadius: 0, pointHoverRadius: 0, order: 0
  };
}

new Chart(document.getElementById("baChart"), {
  type: "scatter",
  data: {
    datasets: [
      hLine(upperLoA, "#ff1a1a"),
      hLine(meanDiff, "#2b2bff"),
      hLine(lowerLoA, "#ff1a1a"),
      {
        data: scatterPoints, order: 1,
        pointStyle: "circle", pointRadius: 5, pointHoverRadius: 5,
        borderColor: "#0000ff", backgroundColor: "rgba(0,0,0,0)", borderWidth: 1
      }
    ]
  },
  options: {
    responsive: true,
    maintainAspectRatio: false,
    events: [],
    layout: { padding: { left: 0, right: 22, top: 0, bottom: 0 } },
    plugins: {
      legend: { display: false },
      tooltip: { enabled: false },
      title: {
        display: true, fullSize: false, color: "#111",
        text: "Bland-Altman plot of force plate and crutch force sensor",
        font: { size: 24, weight: "normal" },
        padding: { top: 8, bottom: 8 }
      },
      frameTicks: { len: 6 },
      panelTag: { text: "b)", y: 33 }
    },
    scales: {
      x: {
        min: meanAxis[0], max: meanAxis[1],
        ticks: { stepSize: 100, padding: 7, font: { size: 22 }, maxRotation: 0 },
        grid: { display: false, drawTicks: false },
        border: { display: false },
        title: {
          display: true, text: "Mean of force plate and crutch force sensor in Newtons",
          font: { size: 24 }, padding: { top: 0, bottom: 4 }
        },
        afterFit: s => { s.height = 73; }
      },
      y: {
        min: diffAxis[0], max: diffAxis[1],
        ticks: { stepSize: 10, padding: 13, font: { size: 22 } },
        grid: { display: false, drawTicks: false },
        border: { display: false },
        title: {
          display: true, text: "Differences between force plate and force sensor in N",
          font: { size: 24 }, padding: { top: 49, bottom: 0 }
        },
        afterFit: s => { s.width = 128; }
      }
    }
  },
  plugins: [frameTicks, panelTag, loaLabels]
});
</script>
</body>
</html>
